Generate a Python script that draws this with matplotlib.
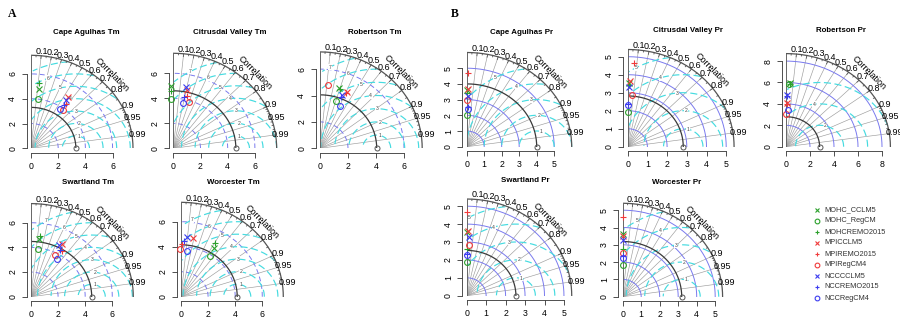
import numpy as np
import matplotlib
matplotlib.use('Agg')
import matplotlib.pyplot as plt

plt.rcParams['font.family'] = ['Liberation Sans', 'DejaVu Sans']

W, H = 900, 320

# ---------------- data ----------------
models = ['MOHC_CCLM5', 'MOHC_RegCM', 'MOHCREMO2015',
          'MPICCLM5', 'MPIREMO2015', 'MPIRegCM4',
          'NCCCCLM5', 'NCCREMO2015', 'NCCRegCM4']

titles = ['Cape Agulhas Tm', 'Citrusdal Valley Tm', 'Robertson Tm',
          'Swartland Tm', 'Worcester Tm',
          'Cape Agulhas Pr', 'Citrusdal Valley Pr', 'Robertson Pr',
          'Swartland Pr', 'Worcester Pr']

ref_sd = [3.3, 4.6, 4.05, 4.48, 4.15, 4.0, 2.82, 2.8, 2.53, 3.19]

sd_cape_tm = [4.84, 3.98, 5.33, 4.94, 4.42, 3.91, 4.69, 4.24, 3.81]
cor_cape_tm = [0.12, 0.13, 0.11, 0.557, 0.581, 0.609, 0.555, 0.566, 0.564]
sd_citrus_tm = [5.0, 3.96, 4.6, 4.78, 4.31, 3.87, 4.97, 4.21, 3.71]
cor_citrus_tm = [-0.04, -0.05, -0.04, 0.213, 0.227, 0.297, 0.187, 0.19, 0.183]
sd_robert_tm = [4.79, 3.78, 4.71, 4.72, 4.59, 4.84, 4.35, 4.18, 3.5]
cor_robert_tm = [0.282, 0.304, 0.297, 0.413, 0.403, 0.124, 0.368, 0.359, 0.408]
sd_swart_tm = [4.69, 3.89, 4.99, 4.88, 4.33, 3.82, 4.7, 4.37, 3.62]
cor_swart_tm = [0.128, 0.139, 0.132, 0.472, 0.52, 0.458, 0.447, 0.492, 0.539]
sd_worc_tm = [4.61, 3.9, 4.97, 4.79, 4.2, 3.85, 4.77, 4.5, 3.67]
cor_worc_tm = [0.532, 0.552, 0.503, 0.188, 0.024, -0.018, 0.088, 0.044, 0.114]

sd_cape_pr = [3.6, 2.05, 3.4, 3.65, 4.7, 2.95, 3.25, 2.5, 2.4]
cor_cape_pr = [0.01, 0.01, 0.01, 0.015, 0.01, 0.01, 0.03, 0.03, 0.03]
sd_citrus_pr = [3.55, 1.95, 3.45, 3.65, 4.66, 2.86, 3.3, 2.35, 2.3]
cor_citrus_pr = [0.02, 0.015, 0.015, 0.03, 0.065, 0.085, 0.025, 0.015, 0.0]
sd_robert_pr = [5.95, 5.9, 5.85, 4.1, 3.95, 3.1, 4.8, 4.7, 3.4]
cor_robert_pr = [0.05, 0.04, 0.05, 0.025, 0.03, 0.0, 0.01, 0.01, 0.04]
sd_swart_pr = [3.55, 1.9, 2.6, 3.62, 4.65, 2.85, 3.3, 2.35, 2.3]
cor_swart_pr = [0.01, 0.0, 0.01, 0.015, 0.005, 0.035, 0.04, 0.01, 0.0]
sd_worc_pr = [3.6, 1.85, 2.75, 3.5, 4.62, 2.5, 3.3, 2.35, 2.25]
cor_worc_pr = [0.0, 0.0, 0.0, 0.005, 0.0, 0.01, 0.0, 0.0, 0.0]

sd_all = [sd_cape_tm, sd_citrus_tm, sd_robert_tm, sd_swart_tm, sd_worc_tm,
          sd_cape_pr, sd_citrus_pr, sd_robert_pr, sd_swart_pr, sd_worc_pr]
cor_all = [cor_cape_tm, cor_citrus_tm, cor_robert_tm, cor_swart_tm, cor_worc_tm,
           cor_cape_pr, cor_citrus_pr, cor_robert_pr, cor_swart_pr, cor_worc_pr]

corr_labels = [0.1, 0.2, 0.3, 0.4, 0.5, 0.6, 0.7, 0.8, 0.9, 0.95, 0.99]
ticks_tm = [0, 2, 4, 6]
ticks_pr = [0, 1, 2, 3, 4, 5]
ticks_pr_rob = [0, 2, 4, 6, 8]
gam_tm = [1, 2, 3, 4, 5, 6, 7]
gam_pr = [1, 2, 3, 4, 5]
gam_pr_rob = [2, 4, 6]

# ---------------- layout / style ----------------
# origin x, origin y (px from top), px per unit x, px per unit y, max sd
layout = [
    (31.0, 148.3, 13.6, 12.4, 7.5),
    (173.3, 148.3, 13.6, 12.5, 7.6),
    (320.0, 148.3, 14.0, 13.2, 7.3),
    (31.0, 296.7, 13.55, 12.33, 7.55),
    (181.0, 296.7, 13.55, 12.5, 7.55),
    (466.7, 146.7, 17.5, 15.7, 6.0),
    (627.7, 146.7, 19.7, 18.0, 5.4),
    (786.0, 146.7, 12.0, 10.7, 8.7),
    (466.7, 295.7, 19.45, 17.9, 5.4),
    (622.7, 296.7, 18.5, 17.3, 5.4),
]
ticks_list = [ticks_tm] * 5 + [ticks_pr, ticks_pr, ticks_pr_rob, ticks_pr, ticks_pr]
gam_list = [gam_tm] * 5 + [gam_pr, gam_pr, gam_pr_rob, gam_pr, gam_pr]
title_pos = [(86, 33), (230, 33), (375, 33), (88, 183), (233, 183),
             (522, 32), (688, 31), (841, 31), (525, 180), (677, 183)]

GREEN, RED, BLUE = '#2ca02c', '#f03a3a', '#3c3cf0'
m_colors = [GREEN] * 3 + [RED] * 3 + [BLUE] * 3
m_markers = ['x', 'o', '+', 'x', '+', 'o', 'x', '+', 'o']
CYAN = '#45dbe0'
SDBLUE = '#7a7aee'
GRAY = '#9c9c9c'

fig = plt.figure(figsize=(W / 100, H / 100), dpi=100)


def taylor(idx):
    ox, oy, sx, sy, maxsd = layout[idx]
    ref = ref_sd[idx]
    ticks = ticks_list[idx]
    gammas = gam_list[idx]
    is_tm = idx < 5
    ext = 1.1 * maxsd
    ax = fig.add_axes([ox / W, (H - oy) / H, ext * sx / W, ext * sy / H])
    ax.set_xlim(0, ext)
    ax.set_ylim(0, ext)
    ax.patch.set_alpha(0)
    for s in ['top', 'right']:
        ax.spines[s].set_visible(False)
    for s in ['left', 'bottom']:
        ax.spines[s].set_position(('outward', 3.2))
        ax.spines[s].set_bounds(ticks[0], ticks[-1])
        ax.spines[s].set_linewidth(0.6)
        ax.spines[s].set_color('#333333')
    ax.set_xticks(ticks)
    ax.set_yticks(ticks)
    ax.set_xticklabels([str(t) for t in ticks])
    ax.set_yticklabels([str(t) for t in ticks], rotation=90, va='center')
    ax.tick_params(axis='both', length=3.5, width=0.6, color='#333333',
                   labelsize=6.3, pad=3.2)

    th = np.linspace(0, np.pi / 2, 300)
    # correlation rays
    for c in corr_labels:
        a = np.arccos(c)
        ax.plot([0, maxsd * np.cos(a)], [0, maxsd * np.sin(a)],
                color=GRAY, lw=0.45, zorder=1)
    # sd arcs
    for r in ticks[1:]:
        if abs(r - ref) < 0.05 or r >= maxsd:
            continue
        ax.plot(r * np.cos(th), r * np.sin(th), color=SDBLUE, lw=0.7,
                ls=(0, (5, 3)) if is_tm else '-', zorder=2)
    # centred RMS arcs
    t = np.arange(0, np.pi, 0.03)
    lp = np.floor(np.linspace(45, 70, len(gammas))).astype(int) - 1
    for gi, g in enumerate(gammas):
        xc = ref + g * np.cos(t)
        yc = g * np.sin(t)
        ok = (xc >= 0) & (xc ** 2 + yc ** 2 <= maxsd ** 2)
        ax.plot(np.where(ok, xc, np.nan), np.where(ok, yc, np.nan),
                color=CYAN, lw=0.85, ls=(0, (6, 3)), zorder=2)
        k = lp[gi]
        if xc[k] > 0:
            ax.text(xc[k], yc[k], str(g), fontsize=3.6, color='#444444',
                    ha='center', va='center', zorder=3,
                    bbox=dict(boxstyle='square,pad=0.1', fc='white', ec='none'))
    # reference sd arc
    ax.plot(ref * np.cos(th), ref * np.sin(th), color='#3a3a3a', lw=0.9, zorder=3)
    # outer arc and frame lines
    ax.plot(maxsd * np.cos(th), maxsd * np.sin(th), color='#555555', lw=0.9, zorder=3)
    ax.plot([0, 0], [0, maxsd], color='#666666', lw=0.7, zorder=3)
    ax.plot([0, maxsd], [0, 0], color='#666666', lw=0.7, zorder=3)
    # ticks on the outer arc
    big = np.arccos(np.arange(0.1, 0.91, 0.1))
    med = np.arccos(np.arange(0.05, 0.96, 0.1))
    sml = np.arccos(np.arange(0.91, 0.995, 0.01))
    for angs, f in [(big, 0.97), (med, 0.985), (sml, 0.985)]:
        for a in angs:
            ax.plot([maxsd * np.cos(a), f * maxsd * np.cos(a)],
                    [maxsd * np.sin(a), f * maxsd * np.sin(a)],
                    color='#555555', lw=0.6, zorder=3)
    # correlation labels
    for c in corr_labels:
        a = np.arccos(c)
        ax.text(1.05 * maxsd * np.cos(a), 1.05 * maxsd * np.sin(a),
                ('%g' % c), fontsize=6.5, ha='center', va='center',
                clip_on=False, zorder=4)
    ax.text(0.79 * maxsd, 0.79 * maxsd, 'Correlation', fontsize=6.5,
            rotation=-45, ha='center', va='center', clip_on=False, zorder=4)
    # observed point
    ax.plot([ref], [0], marker='o', mfc='none', mec='#555555', ms=3.6,
            mew=0.7, clip_on=False, zorder=5)
    # model points
    sds = np.array(sd_all[idx])
    cors = np.array(cor_all[idx])
    xs = sds * cors
    ys = sds * np.sqrt(1 - cors ** 2)
    for i in range(len(models)):
        ax.plot([xs[i]], [ys[i]], marker=m_markers[i], color=m_colors[i],
                mfc='none', ms=4.2, mew=0.8, clip_on=False, zorder=6)
    tx, ty = title_pos[idx]
    fig.text(tx / W, 1 - ty / H, titles[idx], fontsize=5.7, fontweight='bold',
             ha='center', va='center')


for i in range(10):
    taylor(i)

fig.text(12 / W, 1 - 14 / H, 'A', fontsize=8.5, fontweight='bold',
         family=['Liberation Serif', 'DejaVu Serif'], ha='center', va='center')
fig.text(455 / W, 1 - 14 / H, 'B', fontsize=8.5, fontweight='bold',
         family=['Liberation Serif', 'DejaVu Serif'], ha='center', va='center')

# legend
lax = fig.add_axes([0, 0, 1, 1])
lax.set_xlim(0, W)
lax.set_ylim(H, 0)
lax.axis('off')
for i, m in enumerate(models):
    y = 210 + 11 * i
    lax.plot([817], [y], marker=m_markers[i], color=m_colors[i], mfc='none',
             ms=3.4, mew=0.8)
    lax.text(824, y, m, fontsize=5.3, color='#333333', va='center', ha='left')

fig.savefig('out.png', dpi=100)
